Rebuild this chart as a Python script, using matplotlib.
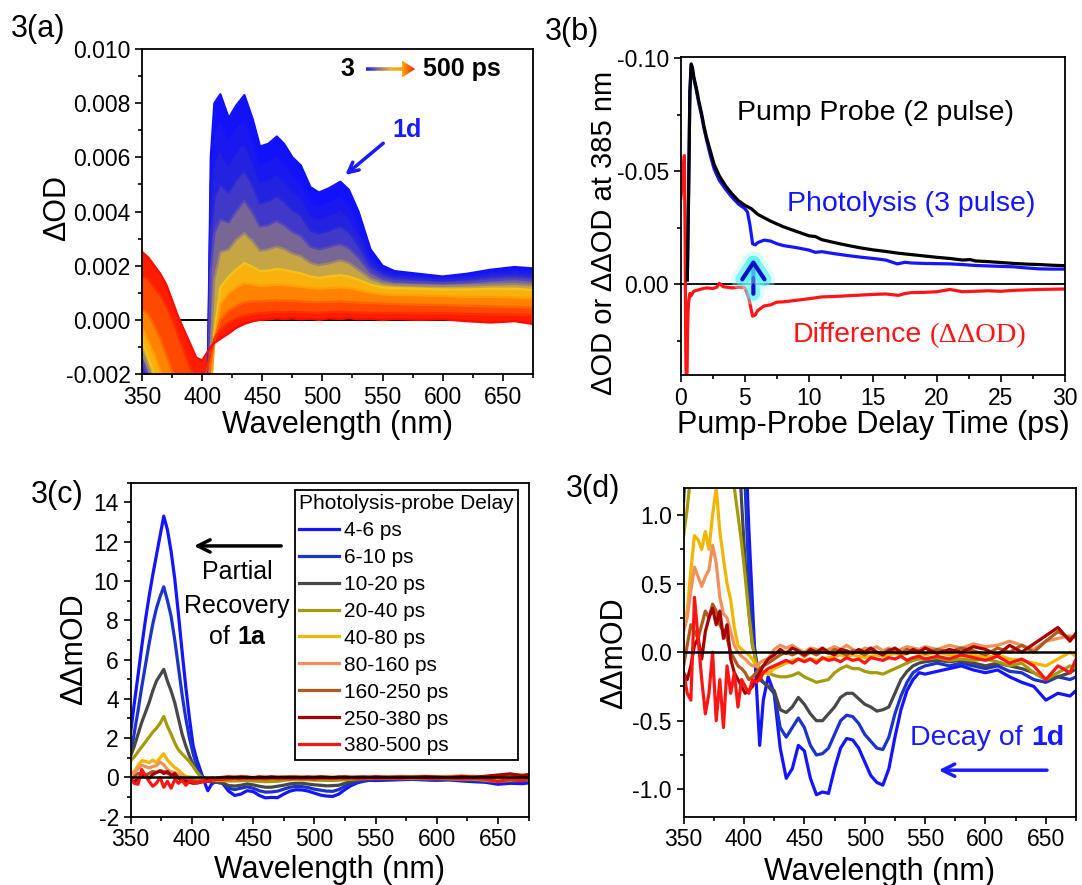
import numpy as np
import matplotlib
matplotlib.use('Agg')
import matplotlib.pyplot as plt
from matplotlib.ticker import MultipleLocator, AutoMinorLocator, FormatStrFormatter
from matplotlib.patches import FancyArrow
from matplotlib.colors import LinearSegmentedColormap, to_rgb
from matplotlib.offsetbox import TextArea, HPacker, AnnotationBbox
import matplotlib.patheffects as pe

plt.rcParams['font.family'] = ['Liberation Sans', 'DejaVu Sans']
plt.rcParams['axes.unicode_minus'] = False

# ---------------- data: panel (a), transient spectra 3 -> 500 ps (units of 1e-3 OD)
wl_a = [350, 355, 360, 365, 370, 375, 380, 385, 390, 395, 400, 404, 407, 410, 415, 422, 428, 435, 442, 448,
        455, 462, 468, 475, 482, 490, 497, 505, 515, 522, 530, 540, 550, 560, 580, 600, 620, 640, 660, 675]
od_a_00 = [-2.4, -3.0, -3.6, -4.0, -4.0, -4.0, -4.0, -4.0, -4.0, -4.0, -4.0, -4.0, 6.0, 8.0, 8.33, 7.45, 7.9, 8.3, 7.4, 6.4,
           6.5, 6.77, 6.5, 6.0, 5.7, 4.9, 4.7, 4.85, 5.1, 4.8, 4.0, 2.6, 2.0, 1.8, 1.7, 1.6, 1.7, 1.85, 1.95, 1.9]
od_a_01 = [-2.2, -2.8, -3.4, -4.0, -4.0, -4.0, -4.0, -4.0, -4.0, -4.0, -4.0, -4.0, 5.0, 6.9, 7.3, 6.6, 7.05, 7.4, 6.6, 5.7,
           5.8, 6.05, 5.8, 5.35, 5.08, 4.35, 4.18, 4.32, 4.55, 4.28, 3.55, 2.4, 1.9, 1.72, 1.64, 1.56, 1.64, 1.78, 1.86, 1.8]
od_a_02 = [-2.0, -2.6, -3.2, -3.8, -4.0, -4.0, -4.0, -4.0, -4.0, -4.0, -4.0, -4.0, 4.2, 5.8, 6.2, 5.7, 6.15, 6.5, 5.8, 5.05,
           5.15, 5.35, 5.15, 4.75, 4.5, 3.85, 3.7, 3.82, 4.02, 3.78, 3.15, 2.2, 1.8, 1.65, 1.58, 1.52, 1.58, 1.7, 1.78, 1.72]
od_a_03 = [-1.8, -2.4, -3.0, -3.6, -4.0, -4.0, -4.0, -4.0, -4.0, -4.0, -4.0, -4.0, 3.0, 4.5, 5.0, 4.7, 5.15, 5.5, 4.95, 4.3,
           4.38, 4.55, 4.38, 4.05, 3.85, 3.3, 3.18, 3.28, 3.45, 3.25, 2.75, 2.0, 1.7, 1.57, 1.5, 1.45, 1.5, 1.6, 1.65, 1.6]
od_a_04 = [-1.5, -2.1, -2.8, -3.4, -4.0, -4.0, -4.0, -4.0, -4.0, -4.0, -4.0, -4.0, 1.8, 3.2, 3.7, 3.6, 4.0, 4.4, 3.95, 3.45,
           3.5, 3.65, 3.5, 3.25, 3.1, 2.7, 2.6, 2.68, 2.8, 2.65, 2.3, 1.75, 1.52, 1.42, 1.38, 1.35, 1.38, 1.45, 1.5, 1.45]
od_a_05 = [-1.2, -1.8, -2.4, -3.0, -3.6, -4.0, -4.0, -4.0, -4.0, -4.0, -4.0, -4.0, -1.0, 1.5, 2.5, 2.6, 2.95, 3.2, 2.9, 2.55,
           2.6, 2.7, 2.62, 2.45, 2.35, 2.1, 2.02, 2.08, 2.2, 2.1, 1.85, 1.52, 1.36, 1.3, 1.27, 1.25, 1.27, 1.3, 1.32, 1.28]
od_a_06 = [-0.8, -1.4, -2.0, -2.6, -3.2, -3.8, -4.0, -4.0, -4.0, -4.0, -4.0, -4.0, -2.8, -0.5, 1.2, 1.6, 1.85, 2.1, 1.95, 1.8,
           1.82, 1.88, 1.85, 1.78, 1.72, 1.6, 1.55, 1.6, 1.65, 1.6, 1.48, 1.3, 1.2, 1.17, 1.15, 1.12, 1.12, 1.15, 1.15, 1.1]
od_a_07 = [-0.3, -0.8, -1.3, -1.9, -2.5, -3.0, -3.5, -4.0, -4.0, -4.0, -4.0, -4.0, -2.5, -0.8, 0.6, 1.0, 1.2, 1.35, 1.3, 1.25,
           1.27, 1.3, 1.28, 1.25, 1.22, 1.18, 1.15, 1.17, 1.2, 1.17, 1.1, 1.0, 0.94, 0.92, 0.9, 0.88, 0.85, 0.85, 0.83, 0.8]
od_a_08 = [0.4, 0.2, -0.2, -0.7, -1.3, -1.9, -2.5, -3.0, -3.4, -3.6, -3.4, -2.8, -1.6, -0.7, 0.0, 0.35, 0.5, 0.65, 0.68, 0.68,
           0.7, 0.72, 0.7, 0.7, 0.68, 0.66, 0.65, 0.66, 0.68, 0.66, 0.64, 0.62, 0.6, 0.58, 0.56, 0.55, 0.52, 0.5, 0.48, 0.45]
od_a_09 = [1.6, 1.5, 1.2, 0.9, 0.5, 0.0, -0.6, -1.2, -1.8, -2.2, -2.3, -1.8, -1.2, -0.7, -0.35, -0.1, 0.05, 0.15, 0.22, 0.25,
           0.27, 0.3, 0.28, 0.3, 0.28, 0.27, 0.26, 0.28, 0.3, 0.28, 0.27, 0.26, 0.25, 0.25, 0.24, 0.25, 0.22, 0.2, 0.2, 0.18]
od_a_10 = [2.5, 2.3, 2.0, 1.7, 1.3, 0.7, 0.1, -0.4, -0.9, -1.4, -1.5, -1.2, -1.0, -0.85, -0.7, -0.5, -0.3, -0.15, -0.05, 0.0,
           0.02, 0.05, 0.03, 0.05, 0.02, 0.04, 0.0, 0.05, 0.03, 0.06, 0.02, 0.04, 0.0, 0.03, 0.0, 0.02, -0.05, -0.1, -0.05, -0.15]
spectra_a = [od_a_00, od_a_01, od_a_02, od_a_03, od_a_04, od_a_05, od_a_06, od_a_07, od_a_08, od_a_09, od_a_10]

# ---------------- data: panel (b), kinetics at 385 nm
t_pp = [0.5, 0.6, 0.7, 0.8, 0.9, 1.0, 1.2, 1.4, 1.6, 1.8, 2.0, 2.3, 2.6, 3.0, 3.5, 4.0, 4.5, 5.0, 5.5, 6.0, 6.5, 7.0,
        8.0, 9.0, 10.0, 10.5, 11, 12, 13, 14, 15, 16, 17, 18, 19, 20, 21, 22, 22.6, 23, 24, 25, 26, 27, 28, 29, 30]
od_pp = [-0.002, -0.04, -0.085, -0.0975, -0.096, -0.092, -0.087, -0.081, -0.076, -0.070, -0.065, -0.059, -0.053,
         -0.048, -0.0435, -0.040, -0.037, -0.035, -0.0335, -0.031, -0.0295, -0.028, -0.0255, -0.0235, -0.0215,
         -0.0212, -0.0198, -0.0185, -0.0173, -0.0162, -0.0153, -0.0146, -0.0138, -0.0132, -0.0126, -0.012, -0.0115,
         -0.0108, -0.0110, -0.0104, -0.0101, -0.0097, -0.0093, -0.009, -0.0088, -0.0085, -0.0083]
t_ph = [0.5, 0.6, 0.7, 0.8, 0.9, 1.0, 1.2, 1.4, 1.6, 1.8, 2.0, 2.3, 2.6, 3.0, 3.5, 4.0, 4.5, 5.0, 5.2, 5.4, 5.6, 5.8,
        6.0, 6.5, 7.0, 7.5, 8.0, 9.0, 10.0, 10.5, 11, 12, 13, 14, 15, 16, 16.9, 17.5, 18, 19, 20, 21, 22, 23, 24,
        25, 26, 27, 28, 29, 30]
od_ph = [-0.002, -0.04, -0.085, -0.0965, -0.095, -0.091, -0.086, -0.080, -0.075, -0.069, -0.064, -0.057, -0.051,
         -0.046, -0.042, -0.0385, -0.0355, -0.0335, -0.032, -0.026, -0.018, -0.0175, -0.0185, -0.0196, -0.0192,
         -0.018, -0.0172, -0.0163, -0.0152, -0.0142, -0.0145, -0.0136, -0.0128, -0.0121, -0.0115, -0.0108, -0.0091,
         -0.0098, -0.0095, -0.0093, -0.0092, -0.0091, -0.0088, -0.0084, -0.0082, -0.008, -0.0078, -0.0073, -0.0069,
         -0.0068, -0.0068]
t_df = [0.0, 0.1, 0.2, 0.27, 0.33, 0.38, 0.42, 0.47, 0.52, 0.56, 0.6, 0.7, 0.8, 1.0, 1.3, 1.6, 2.0, 2.5, 2.8, 3.0,
        3.3, 3.6, 4.0, 4.5, 5.0, 5.3, 5.6, 5.8, 6.0, 6.5, 7.0, 7.5, 8.0, 9.0, 10, 11, 12, 13, 14, 15, 16, 17, 17.5,
        18, 19, 20, 21, 22, 23, 24, 25, 26, 27, 28, 29, 30]
od_df = [-0.038, -0.045, -0.052, -0.057, -0.02, 0.03, 0.045, 0.045, 0.02, 0.012, 0.008, 0.004, 0.005, 0.003,
         0.0025, 0.002, 0.0015, 0.0018, 0.0012, -0.0005, 0.001, 0.0012, 0.0015, 0.0012, 0.0015, 0.006, 0.014,
         0.0135, 0.0115, 0.0095, 0.009, 0.0078, 0.0077, 0.007, 0.0063, 0.0055, 0.0053, 0.005, 0.0047, 0.0044,
         0.0042, 0.0048, 0.004, 0.0036, 0.0035, 0.0032, 0.0022, 0.0032, 0.003, 0.0028, 0.003, 0.0026, 0.0024,
         0.0022, 0.0021, 0.002]

# ---------------- data: panels (c) and (d), double-difference spectra (mOD)
wl_cd = [350, 353, 356, 359, 362, 365, 368, 371, 374, 377, 380, 383, 386, 389, 392, 395, 398, 401, 404, 407, 410,
         413, 416, 420, 425, 430, 435, 440, 445, 450, 455, 460, 465, 470, 475, 480, 485, 490, 495, 500, 505, 510,
         515, 520, 525, 530, 535, 540, 545, 550, 560, 570, 580, 590, 600, 610, 620, 630, 640, 650, 660, 670, 675]
dd_4_6 = [2.3, 3.8, 5.2, 6.65, 8.0, 9.2, 10.3, 11.3, 12.3, 13.3, 12.6, 11.5, 10.1, 8.3, 6.4, 4.6, 3.0, 1.6, 0.9, 0.35,
          -0.2, -0.68, -0.35, -0.18, -0.3, -0.7, -0.92, -0.85, -0.68, -0.72, -0.92, -1.04, -1.02, -1.03, -0.85, -0.7,
          -0.63, -0.64, -0.7, -0.8, -0.9, -0.95, -0.97, -0.85, -0.62, -0.42, -0.28, -0.2, -0.15, -0.16, -0.14, -0.12,
          -0.1, -0.13, -0.15, -0.13, -0.18, -0.22, -0.25, -0.35, -0.3, -0.32, -0.28]
dd_6_10 = [1.2, 2.3, 3.4, 4.6, 5.7, 6.8, 7.8, 8.6, 9.2, 9.7, 9.0, 8.2, 7.0, 5.6, 4.2, 3.0, 2.0, 1.2, 0.55, 0.15,
           -0.05, -0.2, -0.22, -0.25, -0.3, -0.55, -0.62, -0.55, -0.48, -0.55, -0.68, -0.75, -0.74, -0.7, -0.6, -0.5,
           -0.46, -0.47, -0.52, -0.6, -0.65, -0.7, -0.71, -0.62, -0.45, -0.32, -0.22, -0.15, -0.12, -0.1, -0.08, -0.1,
           -0.08, -0.1, -0.12, -0.1, -0.14, -0.15, -0.2, -0.22, -0.18, -0.2, -0.18]
dd_10_20 = [1.1, 1.6, 2.2, 2.8, 3.3, 3.8, 4.4, 4.9, 5.2, 5.5, 4.9, 4.4, 3.8, 3.0, 2.2, 1.6, 1.1, 0.65, 0.3, 0.05,
            -0.05, -0.18, -0.22, -0.25, -0.28, -0.42, -0.44, -0.4, -0.33, -0.38, -0.45, -0.5, -0.5, -0.45, -0.4,
            -0.33, -0.3, -0.3, -0.34, -0.38, -0.4, -0.43, -0.42, -0.4, -0.3, -0.2, -0.14, -0.1, -0.08, -0.07, -0.06,
            -0.07, -0.06, -0.08, -0.1, -0.08, -0.1, -0.12, -0.15, -0.2, -0.18, -0.15, -0.12]
dd_20_40 = [0.85, 1.05, 1.3, 1.55, 1.8, 2.05, 2.3, 2.5, 2.75, 3.1, 2.6, 2.2, 1.75, 1.4, 1.2, 1.0, 0.8, 0.55, 0.28,
            0.06, -0.08, -0.12, -0.15, -0.15, -0.17, -0.18, -0.18, -0.17, -0.15, -0.18, -0.2, -0.22, -0.21, -0.2,
            -0.15, -0.12, -0.1, -0.12, -0.12, -0.14, -0.15, -0.15, -0.16, -0.14, -0.12, -0.1, -0.08, -0.06, -0.05,
            -0.05, -0.04, -0.06, -0.05, -0.06, -0.05, -0.07, -0.1, -0.08, -0.15, -0.2, -0.15, -0.1, -0.12]
dd_40_80 = [0.25, 0.3, 0.6, 0.85, 0.82, 0.75, 0.88, 0.75, 1.0, 1.2, 0.88, 0.68, 0.5, 0.38, 0.18, 0.05, 0.02, 0.0,
            -0.02, -0.05, -0.1, -0.12, -0.15, -0.16, -0.12, -0.1, -0.08, -0.06, -0.05, -0.06, -0.05, -0.06, -0.05,
            -0.04, -0.03, -0.02, -0.03, -0.02, -0.03, -0.04, -0.03, -0.02, -0.03, -0.02, -0.01, -0.02, -0.01, 0.0,
            -0.01, -0.02, 0.0, -0.02, -0.03, -0.02, -0.04, -0.02, -0.05, -0.06, -0.08, -0.1, -0.05, 0.0, -0.03]
dd_80_160 = [0.15, 0.25, 0.45, 0.62, 0.55, 0.48, 0.55, 0.6, 0.78, 0.65, 0.4, 0.28, 0.25, 0.15, 0.05, 0.0, -0.03,
             -0.05, -0.08, -0.1, -0.1, -0.08, -0.06, -0.05, 0.02, 0.05, 0.03, 0.05, 0.02, 0.0, 0.03, 0.02, 0.0, 0.02,
             0.04, 0.02, 0.05, 0.02, 0.0, 0.03, 0.02, 0.04, 0.01, 0.03, 0.0, 0.02, 0.04, 0.03, 0.02, 0.04, 0.02,
             0.05, 0.03, 0.06, 0.04, 0.05, 0.08, 0.05, 0.02, 0.08, 0.1, 0.12, 0.1]
dd_160_250 = [-0.1, 0.05, 0.2, 0.15, 0.1, 0.2, 0.3, 0.25, 0.35, 0.3, 0.2, 0.15, 0.1, 0.0, -0.05, -0.1, -0.12, -0.15,
              -0.2, -0.18, -0.15, -0.12, -0.1, -0.08, -0.05, -0.02, 0.0, -0.02, 0.0, -0.03, 0.0, -0.02, 0.01, -0.01,
              0.02, 0.0, -0.02, 0.01, 0.0, -0.02, 0.01, 0.0, -0.01, 0.02, 0.0, -0.01, 0.02, 0.0, 0.01, -0.01, 0.02,
              0.0, 0.03, 0.01, -0.02, 0.03, 0.0, 0.05, 0.0, 0.08, 0.15, 0.1, 0.12]
dd_250_380 = [-0.15, -0.2, -0.1, 0.05, 0.1, -0.05, 0.15, 0.25, 0.32, 0.2, 0.3, 0.1, 0.2, -0.05, -0.15, -0.2, -0.25,
              -0.3, -0.28, -0.25, -0.2, -0.15, -0.1, -0.05, -0.02, 0.02, -0.01, 0.03, 0.01, -0.02, 0.02, 0.0, 0.03,
              0.0, -0.02, 0.02, 0.01, -0.01, 0.02, 0.0, 0.03, 0.0, -0.02, 0.01, 0.03, 0.0, -0.01, 0.02, 0.0, 0.03,
              -0.01, 0.02, 0.0, 0.04, 0.02, -0.02, 0.05, 0.0, 0.06, 0.12, 0.18, 0.08, 0.14]
dd_380_500 = [-0.15, -0.3, -0.35, 0.4, 0.1, -0.2, -0.45, -0.3, 0.0, -0.5, -0.2, -0.55, -0.1, -0.3, -0.15, -0.4, -0.2,
              -0.25, -0.3, -0.2, -0.22, -0.2, -0.15, -0.12, -0.1, -0.08, -0.06, -0.08, -0.05, -0.07, -0.05, -0.08,
              -0.04, -0.06, -0.05, -0.07, -0.04, -0.06, -0.05, -0.08, -0.04, -0.05, -0.06, -0.04, -0.05, -0.03, -0.06,
              -0.04, -0.03, -0.05, -0.03, -0.05, -0.02, -0.04, -0.06, -0.03, -0.08, -0.05, -0.1, -0.2, -0.1, -0.15,
              -0.05]
delay_labels = ['4-6 ps', '6-10 ps', '10-20 ps', '20-40 ps', '40-80 ps', '80-160 ps', '160-250 ps', '250-380 ps',
                '380-500 ps']
dd_curves = [dd_4_6, dd_6_10, dd_10_20, dd_20_40, dd_40_80, dd_80_160, dd_160_250, dd_250_380, dd_380_500]

# ---------------- styles
colors_a = ['#1010ff', '#1414f5', '#1c1ce8', '#2a28d8', '#5648b8', '#9a8670', '#f2c41a', '#ffa000', '#ff6400',
            '#ff2e00', '#ff0a00']
colors_cd = ['#1414ff', '#1a33cc', '#484848', '#a59a0c', '#f2b600', '#f0915a', '#b0591a', '#a80000', '#ff1414']
TICK = 16.5
LAB = 22


def style_axes(ax):
    for s in ax.spines.values():
        s.set_linewidth(1.3)
    ax.tick_params(which='both', direction='out', labelsize=TICK, width=1.2, top=False, right=False)
    ax.tick_params(which='major', length=5)
    ax.tick_params(which='minor', length=3)


def set_labels(ax, xl, yl, xpos, ypos, ysize=LAB):
    ax.set_xlabel(xl, fontsize=LAB)
    ax.set_ylabel(yl, fontsize=ysize)
    ax.xaxis.set_label_coords(*xpos)
    ax.yaxis.set_label_coords(*ypos)
    ax.xaxis.label.set_va('center')
    ax.yaxis.label.set_va('center')


def mixed_text(ax, x, y, parts, sep=5):
    boxes = [TextArea(s, textprops=p) for s, p in parts]
    pack = HPacker(children=boxes, align='baseline', pad=0, sep=sep)
    ab = AnnotationBbox(pack, (x, y), xycoords='data', frameon=False, box_alignment=(0.5, 0.5), pad=0)
    ax.add_artist(ab)


fig = plt.figure(figsize=(10.82, 8.85), dpi=100)

# ================= (a)
ax = fig.add_axes([0.1315, 0.5774, 0.3608, 0.3672])
wl = np.array(wl_a)
spec = [np.array(s) * 1e-3 for s in spectra_a]
for i in range(len(spec) - 1):
    mix = tuple((np.array(to_rgb(colors_a[i])) + np.array(to_rgb(colors_a[i + 1]))) / 2)
    ax.fill_between(wl, spec[i], spec[i + 1], color=mix, lw=0, zorder=1)
for s, c in zip(spec, colors_a):
    ax.plot(wl, s, color=c, lw=1.6, zorder=2)
ax.axhline(0, color='k', lw=1.4, zorder=0.5)

# gradient arrow "3 -> 500 ps"
arrow_cmap = LinearSegmentedColormap.from_list('arr', ['#1414ff', '#8a7080', '#f0b030', '#ffa500', '#ff1a00'])
arr = FancyArrow(0.5733, 0.9385, 0.1255, 0, width=0.0108, head_width=0.0523, head_length=0.0333,
                 length_includes_head=True, transform=ax.transAxes, facecolor='none', edgecolor='none')
ax.add_patch(arr)
grad = np.linspace(0, 1, 256).reshape(1, -1)
im = ax.imshow(grad, cmap=arrow_cmap, extent=[0.5733, 0.6988, 0.90, 0.97], transform=ax.transAxes,
               aspect='auto', zorder=5)
im.set_clip_path(arr)
ax.text(0.5256, 0.9385, '3', transform=ax.transAxes, fontsize=18, fontweight='bold', ha='center', va='center')
ax.text(0.719, 0.9385, '500 ps', transform=ax.transAxes, fontsize=18, fontweight='bold', ha='left', va='center')

ax.annotate('', xy=(519, 5.35e-3), xytext=(550.6, 6.52e-3),
            arrowprops=dict(arrowstyle='->', color='#1a1aff', lw=2.5, mutation_scale=18, shrinkA=0, shrinkB=0))
ax.text(570.6, 7.0e-3, '1d', color='#1a1aff', fontsize=18, fontweight='bold', ha='center', va='center')

ax.set_xlim(350, 675)
ax.set_ylim(-0.002, 0.010)
ax.xaxis.set_major_locator(MultipleLocator(50))
ax.xaxis.set_minor_locator(AutoMinorLocator(2))
ax.yaxis.set_major_locator(MultipleLocator(0.002))
ax.yaxis.set_minor_locator(AutoMinorLocator(2))
ax.yaxis.set_major_formatter(FormatStrFormatter('%.3f'))
style_axes(ax)
set_labels(ax, 'Wavelength (nm)', 'ΔOD', (0.5, -0.157), (-0.219, 0.51))

# ================= (b)
ax = fig.add_axes([0.6293, 0.5763, 0.3550, 0.3597])
ax.axhline(0, color='k', lw=1.3, zorder=1)
ax.plot(t_ph, od_ph, color='#1515ff', lw=2.3, zorder=2)
ax.plot(t_df, od_df, color='#ff1515', lw=2.3, zorder=2)
ax.plot(t_pp, od_pp, color='k', lw=2.3, zorder=3)
ax.text(15.16, -0.0756, 'Pump Probe (2 pulse)', fontsize=20.5, ha='center', va='center')
ax.text(17.96, -0.0355, 'Photolysis (3 pulse)', color='#1515ff', fontsize=20.5, ha='center', va='center')
mixed_text(ax, 17.85, 0.0224, [('Difference', dict(color='#ff1515', fontsize=20.5)),
                               ('(ΔΔOD)', dict(color='#ff1515', fontsize=20.5, family='Liberation Serif'))], sep=6)
ann = ax.annotate('', xy=(5.66, -0.0113), xytext=(5.66, 0.0041),
                  arrowprops=dict(arrowstyle='->,head_length=0.6,head_width=0.4', color='#1010c8', lw=3,
                                  mutation_scale=20, shrinkA=0, shrinkB=0), zorder=4)
ann.arrow_patch.set_path_effects([pe.Stroke(linewidth=16, foreground='#b8fbff', alpha=0.35),
                                  pe.Stroke(linewidth=10, foreground='#40eeff', alpha=0.6),
                                  pe.Normal()])
ax.set_xlim(0, 30)
ax.set_ylim(0.040, -0.1007)
ax.xaxis.set_major_locator(MultipleLocator(5))
ax.xaxis.set_minor_locator(AutoMinorLocator(2))
ax.yaxis.set_major_locator(MultipleLocator(0.05))
ax.yaxis.set_minor_locator(AutoMinorLocator(2))
ax.yaxis.set_major_formatter(FormatStrFormatter('%.2f'))
style_axes(ax)
set_labels(ax, 'Pump-Probe Delay Time (ps)', 'ΔOD or ΔΔOD at 385 nm', (0.5, -0.157), (-0.201, 0.446), ysize=21)

# ================= (c)
ax = fig.add_axes([0.1208, 0.0772, 0.3677, 0.3774])
for vals, c, lab in zip(dd_curves, colors_cd, delay_labels):
    ax.plot(wl_cd, vals, color=c, lw=2.3, label=lab)
ax.axhline(0, color='k', lw=1.8, zorder=3)
leg = ax.legend(title='Photolysis-probe Delay', loc='upper right', bbox_to_anchor=(0.974, 0.978),
                borderaxespad=0, fontsize=15, title_fontsize=15, frameon=True, fancybox=False, edgecolor='k',
                framealpha=1, handlelength=1.9, handletextpad=0.22, labelspacing=0.38, borderpad=0.2,
                alignment='left')
leg.get_frame().set_linewidth(1.3)
ax.annotate('', xy=(401.7, 11.78), xytext=(472.9, 11.78),
            arrowprops=dict(arrowstyle='->', color='k', lw=2.5, mutation_scale=22, shrinkA=0, shrinkB=0))
ax.text(437, 10.43, 'Partial', fontsize=18, ha='center', va='center')
ax.text(437, 8.74, 'Recovery', fontsize=18, ha='center', va='center')
mixed_text(ax, 437, 7.16, [('of', dict(fontsize=18)), ('1a', dict(fontsize=18, fontweight='bold'))], sep=5)
ax.set_xlim(350, 675)
ax.set_ylim(-2, 15)
ax.xaxis.set_major_locator(MultipleLocator(50))
ax.xaxis.set_minor_locator(AutoMinorLocator(2))
ax.yaxis.set_major_locator(MultipleLocator(2))
ax.yaxis.set_minor_locator(AutoMinorLocator(2))
style_axes(ax)
set_labels(ax, 'Wavelength (nm)', 'ΔΔmOD', (0.5, -0.16), (-0.143, 0.502))

# ================= (d)
ax = fig.add_axes([0.6318, 0.0772, 0.3627, 0.3718])
for vals, c in zip(dd_curves, colors_cd):
    ax.plot(wl_cd, vals, color=c, lw=2.3)
ax.axhline(0, color='k', lw=1.8, zorder=3)
mixed_text(ax, 601.7, -0.623, [('Decay of', dict(color='#1a1aff', fontsize=20.5)),
                               ('1d', dict(color='#1a1aff', fontsize=20.5, fontweight='bold'))], sep=6)
ax.annotate('', xy=(561.2, -0.861), xytext=(650.9, -0.861),
            arrowprops=dict(arrowstyle='->', color='#1a1aff', lw=2.5, mutation_scale=22, shrinkA=0, shrinkB=0))
ax.set_xlim(350, 675)
ax.set_ylim(-1.2, 1.2)
ax.xaxis.set_major_locator(MultipleLocator(50))
ax.xaxis.set_minor_locator(AutoMinorLocator(2))
ax.yaxis.set_major_locator(MultipleLocator(0.5))
ax.yaxis.set_minor_locator(AutoMinorLocator(2))
ax.yaxis.set_major_formatter(FormatStrFormatter('%.1f'))
style_axes(ax)
set_labels(ax, 'Wavelength (nm)', 'ΔΔmOD', (0.5, -0.167), (-0.178, 0.498))

# panel tags
fig.text(0.0349, 0.967, '3(a)', fontsize=22, ha='center', va='center')
fig.text(0.5284, 0.9642, '3(b)', fontsize=22, ha='center', va='center')
fig.text(0.0529, 0.4407, '3(c)', fontsize=22, ha='center', va='center')
fig.text(0.5483, 0.448, '3(d)', fontsize=22, ha='center', va='center')

fig.savefig('out.png', dpi=100)
